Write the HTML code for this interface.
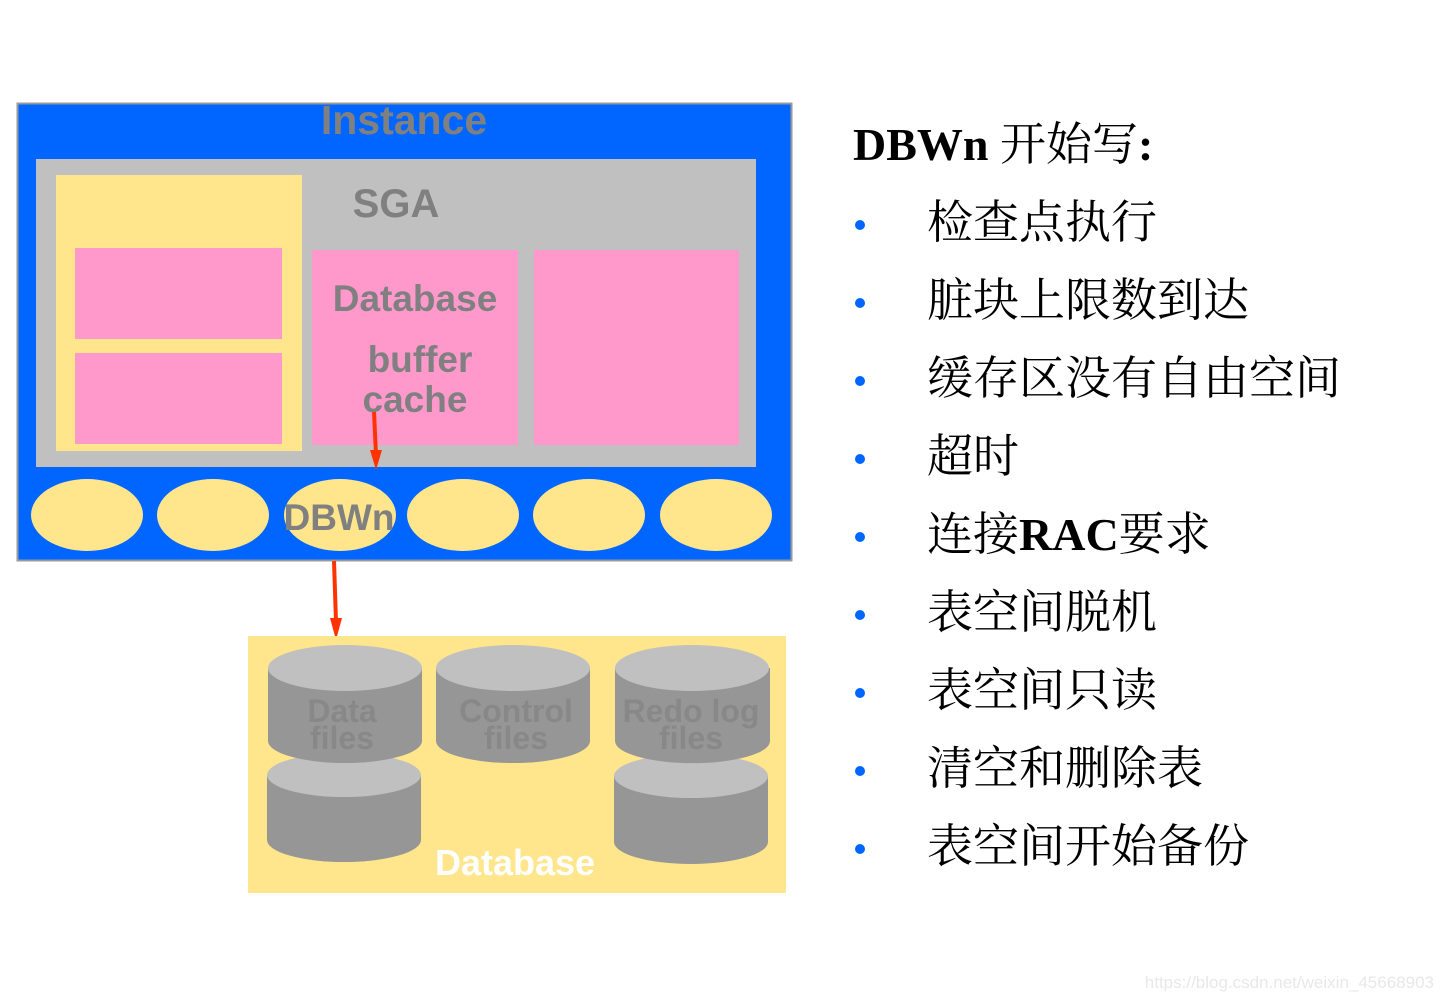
<!DOCTYPE html>
<html><head><meta charset="utf-8"><style>
html,body{margin:0;padding:0;background:#fff;}
svg{display:block;}
</style></head><body>
<svg width="1444" height="1000" xmlns="http://www.w3.org/2000/svg" font-family="Liberation Sans, sans-serif">
<rect x="0" y="0" width="1444" height="1000" fill="#fff"/>
<rect x="17.5" y="103.5" width="774" height="457" fill="#0066ff" stroke="#999" stroke-width="2"/>
<text x="404" y="134" text-anchor="middle" font-size="41" font-weight="bold" fill="#808080">Instance</text>
<rect x="36" y="159" width="720" height="308" fill="#c0c0c0"/>
<rect x="56" y="175" width="246" height="276" fill="#ffe68c"/>
<rect x="75" y="248" width="207" height="91" fill="#ff99cc"/>
<rect x="75" y="353" width="207" height="91" fill="#ff99cc"/>
<text x="396" y="217" text-anchor="middle" font-size="40" font-weight="bold" fill="#808080">SGA</text>
<rect x="312" y="250" width="206" height="195" fill="#ff99cc"/>
<rect x="534" y="250" width="205" height="195" fill="#ff99cc"/>
<text x="415" y="311" text-anchor="middle" font-size="37" font-weight="bold" fill="#808080">Database</text>
<text x="420" y="372" text-anchor="middle" font-size="37" font-weight="bold" fill="#808080">buffer</text>
<text x="415" y="412" text-anchor="middle" font-size="37" font-weight="bold" fill="#808080">cache</text>
<g fill="#ffe68c">
<ellipse cx="87" cy="515" rx="56" ry="36"/>
<ellipse cx="213" cy="515" rx="56" ry="36"/>
<ellipse cx="340" cy="515" rx="56" ry="36"/>
<ellipse cx="463" cy="515" rx="56" ry="36"/>
<ellipse cx="589" cy="515" rx="56" ry="36"/>
<ellipse cx="716" cy="515" rx="56" ry="36"/>
</g>
<text x="339" y="530" text-anchor="middle" font-size="37" font-weight="bold" fill="#808080">DBWn</text>
<line x1="374" y1="412" x2="376" y2="455" stroke="#ff3300" stroke-width="4"/>
<polygon points="370,450 382,450 376,470" fill="#ff3300"/>
<line x1="334" y1="561" x2="336" y2="622" stroke="#ff3300" stroke-width="4"/>
<polygon points="330,618 342,618 336,640" fill="#ff3300"/>
<rect x="248" y="636" width="538" height="257" fill="#ffe68c"/>
<g>
<path d="M267 775 V840 A77 22 0 0 0 421 840 V775 Z" fill="#969696"/>
<ellipse cx="344" cy="775" rx="77" ry="22" fill="#c0c0c0"/>
<path d="M268 668 V741 A77 22 0 0 0 422 741 V668 Z" fill="#969696"/>
<ellipse cx="345" cy="668" rx="77" ry="23" fill="#c0c0c0"/>
<path d="M436 668 V741 A77 22 0 0 0 590 741 V668 Z" fill="#969696"/>
<ellipse cx="513" cy="668" rx="77" ry="23" fill="#c0c0c0"/>
<path d="M614 776 V842 A77 22 0 0 0 768 842 V776 Z" fill="#969696"/>
<ellipse cx="691" cy="776" rx="77" ry="22" fill="#c0c0c0"/>
<path d="M615 668 V741 A77 22 0 0 0 770 741 V668 Z" fill="#969696"/>
<ellipse cx="692" cy="668" rx="77" ry="23" fill="#c0c0c0"/>
</g>
<g font-size="32" font-weight="bold" fill="#888" text-anchor="middle">
<text x="342" y="722">Data</text><text x="342" y="749">files</text>
<text x="516" y="722">Control</text><text x="516" y="749">files</text>
<text x="691" y="722">Redo log</text><text x="691" y="749">files</text>
</g>
<text x="515" y="875" text-anchor="middle" font-size="36" font-weight="bold" fill="#fff">Database</text>
<text x="853" y="160" font-family="Liberation Serif, Noto Serif CJK SC, serif" font-size="46" font-weight="bold" fill="#000">DBWn <tspan font-weight="normal">开始写</tspan>:</text>
<g font-family="Liberation Serif, Noto Serif CJK SC, serif" font-size="46" fill="#000">
<text x="927" y="238">检查点执行</text>
<text x="927" y="316">脏块上限数到达</text>
<text x="927" y="394">缓存区没有自由空间</text>
<text x="927" y="472">超时</text>
<text x="927" y="550">连接<tspan font-weight="bold">RAC</tspan>要求</text>
<text x="927" y="628">表空间脱机</text>
<text x="927" y="706">表空间只读</text>
<text x="927" y="784">清空和删除表</text>
<text x="927" y="862">表空间开始备份</text>
</g>
<g fill="#0066ff">
<circle cx="860" cy="225" r="5"/><circle cx="860" cy="303" r="5"/><circle cx="860" cy="381" r="5"/>
<circle cx="860" cy="459" r="5"/><circle cx="860" cy="537" r="5"/><circle cx="860" cy="615" r="5"/>
<circle cx="860" cy="693" r="5"/><circle cx="860" cy="771" r="5"/><circle cx="860" cy="849" r="5"/>
</g>
<text x="1434" y="988" text-anchor="end" font-size="17" fill="#e8e8e8">https://blog.csdn.net/weixin_45668903</text>
</svg>
</body></html>
